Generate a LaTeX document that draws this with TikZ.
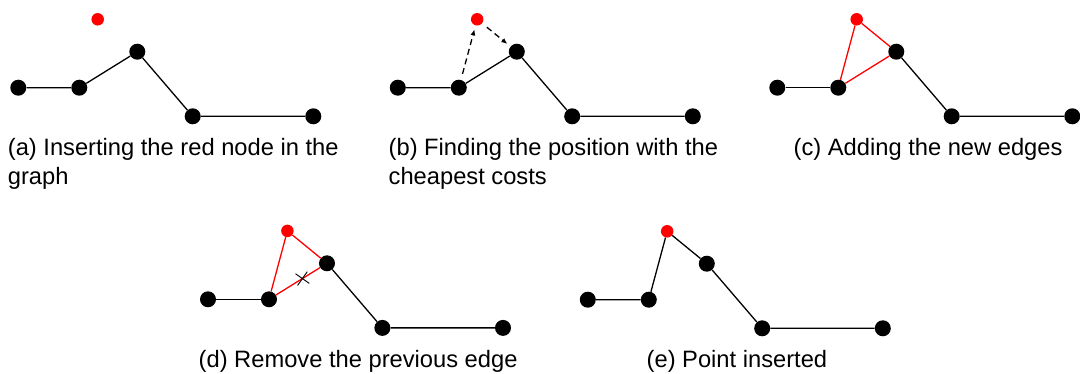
\documentclass[tikz,border=0pt]{standalone}
\usepackage{fontspec}
\setmainfont{Liberation Sans}
\usetikzlibrary{arrows.meta,shapes.misc}

\begin{document}
\begin{tikzpicture}[x=1pt,y=-1pt,>={Latex[length=6pt,width=5pt]},
  vertex/.style={circle,fill=black,minimum size=16pt,inner sep=0pt},
  newvertex/.style={circle,fill=red,minimum size=12.5pt,inner sep=0pt},
  edge/.style={line width=1.3pt},
  newedge/.style={red,line width=1.3pt},
  probe/.style={->,line width=1.3pt,dash pattern=on 6pt off 4pt,shorten <=6pt,shorten >=4pt},
  caption/.style={font=\fontsize{23.7}{29}\selectfont,anchor=base west,inner sep=0pt,align=left}]

\useasboundingbox (0,0) rectangle (1080,374);

% the same small graph in every sub-figure, only shifted
\foreach \p/\dx/\dy in {a/0/0, b/379.5/0, c/759/0, d/189.7/211.6, e/569.5/212}{
  \foreach \n/\x/\y in {1/18.3/87.7, 2/79.3/87.7, 3/137.3/51.7, 4/192.7/116.3, 5/313.3/116.3}
    \node[vertex] (\p\n) at (\x+\dx,\y+\dy) {};
  \node[newvertex] (\p r) at (97.7+\dx,19.3+\dy) {};
}

% (a) red node not yet connected
\draw[edge] (a1) -- (a2) -- (a3) -- (a4) -- (a5);

% (b) probing the cheapest position
\draw[edge] (b1) -- (b2) -- (b3) -- (b4) -- (b5);
\draw[probe] (b2) -- (br);
\draw[probe] (br) -- (b3);

% (c) new edges in red
\draw[edge] (c1) -- (c2);
\draw[edge] (c3) -- (c4) -- (c5);
\draw[newedge] (c2) -- (cr) -- (c3) -- (c2);

% (d) old edge gets crossed out
\draw[edge] (d1) -- (d2);
\draw[edge] (d3) -- (d4) -- (d5);
\draw[newedge] (d2) -- (dr) -- (d3);
\draw[newedge] (d2) -- node[pos=0.6,cross out,draw=black,line width=0.9pt,minimum size=11pt,inner sep=0pt,rotate=10] (dcut) {} (d3);

% (e) result
\draw[edge] (e1) -- (e2) -- (er) -- (e3) -- (e4) -- (e5);

% captions (base = last line)
\node[caption] (capa) at (7.7,185) {(a) Inserting the red node in the\\graph};
\node[caption] (capb) at (388.5,185) {(b) Finding the position with the\\cheapest costs};
\node[caption] (capc) at (793.5,156) {(c) Adding the new edges};
\node[caption] (capd) at (198.5,367) {(d) Remove the previous edge};
\node[caption] (cape) at (646.5,367) {(e) Point inserted};

\end{tikzpicture}
\end{document}
